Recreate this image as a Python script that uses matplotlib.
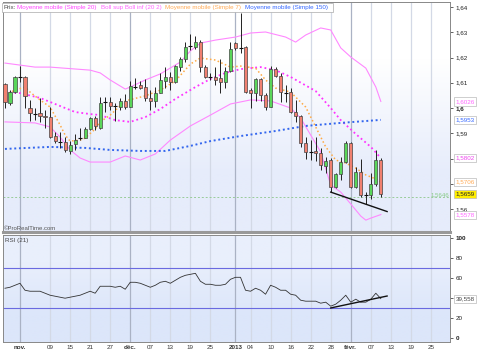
import numpy as np
import pandas as pd
import matplotlib
matplotlib.use('Agg')
import matplotlib.pyplot as plt
from matplotlib.patches import Rectangle
from matplotlib.transforms import blended_transform_factory

plt.rcParams['font.family'] = ['Liberation Sans', 'DejaVu Sans']

# trading days (forex, weekdays) from 29 Oct 2012
dates = pd.bdate_range('2012-10-29', '2013-03-01')

# daily candles, 29 Oct 2012 -> 11 Feb 2013
opens = [1.6095, 1.6020, 1.6063, 1.6123, 1.6121, 1.6000, 1.5980, 1.5980, 1.5968, 1.5964,
         1.5889, 1.5869, 1.5865, 1.5830, 1.5857, 1.5879, 1.5881, 1.5917, 1.5960, 1.5921,
         1.6020, 1.6024, 1.6008, 1.6004, 1.6028, 1.6004, 1.6087, 1.6091, 1.6083, 1.6040,
         1.6028, 1.6060, 1.6107, 1.6123, 1.6103, 1.6162, 1.6194, 1.6242, 1.6242, 1.6261,
         1.6162, 1.6123, 1.6123, 1.6119, 1.6103, 1.6146, 1.6257, 1.6238, 1.6242, 1.6071,
         1.6060, 1.6115, 1.6052, 1.6004, 1.6154, 1.6127, 1.6063, 1.6063, 1.5984, 1.5968,
         1.5861, 1.5826, 1.5830, 1.5822, 1.5770, 1.5794, 1.5687, 1.5739, 1.5786, 1.5861,
         1.5687, 1.5747, 1.5656, 1.5656, 1.5699, 1.5794]
highs = [1.6099, 1.6071, 1.6127, 1.6166, 1.6127, 1.6032, 1.6000, 1.6040, 1.5992, 1.6004,
         1.5905, 1.5905, 1.5885, 1.5869, 1.5897, 1.5921, 1.5925, 1.5964, 1.5968, 1.6044,
         1.6044, 1.6044, 1.6020, 1.6040, 1.6056, 1.6107, 1.6119, 1.6107, 1.6115, 1.6071,
         1.6083, 1.6138, 1.6162, 1.6142, 1.6170, 1.6202, 1.6261, 1.6293, 1.6285, 1.6269,
         1.6170, 1.6138, 1.6162, 1.6194, 1.6162, 1.6261, 1.6261, 1.6376, 1.6246, 1.6079,
         1.6119, 1.6119, 1.6060, 1.6166, 1.6162, 1.6138, 1.6091, 1.6079, 1.6032, 1.5972,
         1.5885, 1.5873, 1.5885, 1.5842, 1.5806, 1.5802, 1.5743, 1.5806, 1.5869, 1.5865,
         1.5766, 1.5798, 1.5667, 1.5743, 1.5834, 1.5802]
lows = [1.6000, 1.6012, 1.6060, 1.6103, 1.6000, 1.5948, 1.5952, 1.5945, 1.5921, 1.5881,
        1.5861, 1.5842, 1.5826, 1.5818, 1.5834, 1.5873, 1.5881, 1.5913, 1.5913, 1.5917,
        1.5984, 1.5992, 1.5948, 1.5992, 1.5996, 1.6004, 1.6075, 1.6075, 1.6028, 1.5992,
        1.6004, 1.6060, 1.6079, 1.6071, 1.6099, 1.6146, 1.6182, 1.6230, 1.6234, 1.6142,
        1.6119, 1.6111, 1.6091, 1.6060, 1.6079, 1.6142, 1.6230, 1.6218, 1.6060, 1.6000,
        1.6028, 1.6028, 1.5992, 1.6004, 1.6123, 1.6024, 1.6024, 1.5980, 1.5945, 1.5846,
        1.5798, 1.5794, 1.5790, 1.5754, 1.5743, 1.5667, 1.5683, 1.5715, 1.5782, 1.5683,
        1.5683, 1.5648, 1.5620, 1.5640, 1.5691, 1.5648]
closes = [1.6024, 1.6063, 1.6123, 1.6121, 1.6048, 1.5980, 1.5978, 1.5968, 1.5964, 1.5885,
          1.5869, 1.5867, 1.5834, 1.5853, 1.5873, 1.5881, 1.5917, 1.5960, 1.5929, 1.6020,
          1.6022, 1.6008, 1.6006, 1.6028, 1.6004, 1.6087, 1.6085, 1.6079, 1.6040, 1.6028,
          1.6060, 1.6111, 1.6123, 1.6103, 1.6166, 1.6194, 1.6242, 1.6244, 1.6261, 1.6162,
          1.6123, 1.6121, 1.6111, 1.6103, 1.6146, 1.6234, 1.6238, 1.6236, 1.6063, 1.6060,
          1.6115, 1.6052, 1.6004, 1.6154, 1.6127, 1.6063, 1.6061, 1.5984, 1.5968, 1.5861,
          1.5826, 1.5824, 1.5822, 1.5774, 1.5790, 1.5687, 1.5739, 1.5786, 1.5861, 1.5687,
          1.5747, 1.5656, 1.5654, 1.5699, 1.5794, 1.5659]

# indicator lines (day position, value)
boll_up_x = [0, 6, 9, 17, 19, 21, 24, 25, 28, 31, 35, 37, 39, 42, 46, 49, 52, 56, 58, 60, 63, 65, 67, 69, 72, 74, 75]
boll_up = [1.6178, 1.6162, 1.6162, 1.6150, 1.6139, 1.6111, 1.6075, 1.6083, 1.6111, 1.6135,
           1.6182, 1.6226, 1.6257, 1.6269, 1.6281, 1.6297, 1.6301, 1.6281, 1.6261, 1.6289,
           1.6317, 1.6309, 1.6238, 1.6202, 1.6158, 1.6083, 1.6026]
boll_dn_x = [0, 6, 9, 11, 13, 15, 17, 21, 24, 27, 30, 33, 37, 41, 45, 49, 53, 57, 59, 61, 63, 65, 67, 69, 71, 72, 73, 75]
boll_dn = [1.5945, 1.5941, 1.5925, 1.5885, 1.5834, 1.5802, 1.5786, 1.5786, 1.5810, 1.5794,
           1.5818, 1.5873, 1.5929, 1.5972, 1.6016, 1.6032, 1.6028, 1.6000, 1.5960, 1.5893,
           1.5826, 1.5695, 1.5667, 1.5620, 1.5572, 1.5556, 1.5564, 1.5578]
sma20_x = [0, 3, 7, 10, 14, 17, 19, 22, 25, 28, 31, 34, 38, 41, 44, 47, 51, 54, 57, 62, 65, 67, 70, 73, 75]
sma20 = [1.6063, 1.6059, 1.6040, 1.6016, 1.5984, 1.5976, 1.5972, 1.5952, 1.5945, 1.5964,
         1.5996, 1.6036, 1.6083, 1.6115, 1.6139, 1.6154, 1.6162, 1.6150, 1.6123, 1.6067,
         1.6000, 1.5952, 1.5897, 1.5846, 1.5802]
sma7_x = [0, 2, 4, 5, 7, 9, 11, 12, 13, 15, 16, 18, 19, 21, 24, 28, 31, 34, 37, 39, 42, 45,
          47, 50, 52, 54, 57, 60, 62, 64, 66, 68, 70, 72, 74, 75]
sma7 = [1.6052, 1.6071, 1.6083, 1.6063, 1.6032, 1.6004, 1.5933, 1.5893, 1.5869, 1.5873,
        1.5881, 1.5917, 1.5945, 1.5972, 1.6028, 1.6048, 1.6071, 1.6107, 1.6174, 1.6198,
        1.6190, 1.6162, 1.6166, 1.6158, 1.6111, 1.6079, 1.6063, 1.6004, 1.5925, 1.5846,
        1.5794, 1.5782, 1.5762, 1.5735, 1.5719, 1.5706]
sma150_x = [0, 9, 16, 21, 27, 32, 37, 41, 47, 54, 60, 67, 75]
sma150 = [1.5838, 1.5846, 1.5842, 1.5834, 1.5830, 1.5830, 1.5850, 1.5869, 1.5889, 1.5909,
          1.5929, 1.5941, 1.5953]

rsi = [50, 51, 53, 55, 48, 47, 47, 47, 45, 43, 42, 41, 40, 41, 42, 43, 45, 47, 45, 52,
       52, 52, 51, 52, 49, 56, 56, 55, 53, 51, 53, 56, 57, 55, 58, 61, 63, 64, 65, 57,
       54, 54, 53, 53, 54, 59, 61, 61, 48, 47, 50, 48, 44, 53, 51, 48, 48, 44, 43, 38,
       37, 37, 37, 35, 36, 32, 34, 38, 43, 36, 39, 36, 36, 39, 45, 39.558]

# trend lines drawn by hand on the chart
trend_x = [65, 76.25]
trend_price = [1.5667, 1.5590]
trend_rsi = [30.2, 42.2]
support = 1.5646

tick_dates = ['2012-11-01', '2012-11-09', '2012-11-15', '2012-11-21', '2012-11-27', '2012-12-03',
              '2012-12-07', '2012-12-13', '2012-12-19', '2012-12-25', '2013-01-01', '2013-01-04',
              '2013-01-10', '2013-01-16', '2013-01-22', '2013-01-28', '2013-02-01', '2013-02-07',
              '2013-02-13', '2013-02-19', '2013-02-25']
tick_labels = ['nov.', '09', '15', '21', '27', 'déc.', '07', '13', '19', '25', '2013', '04',
               '10', '16', '22', '28', 'févr.', '07', '13', '19', '25']
month_labels = ['nov.', 'déc.', '2013', 'févr.']

price_ticks = [1.56, 1.57, 1.58, 1.59, 1.60, 1.61, 1.62, 1.63, 1.64]
price_tick_labels = ['1,56', '', '', '1,59', '1,6', '1,61', '1,62', '1,63', '1,64']
rsi_ticks = [0, 20, 40, 60, 80, 100]
rsi_tick_labels = ['0', '20', '', '60', '80', '100']

last_labels = [(1.6026, '1,6026', '#ff66ff', 'white'),
               (1.5953, '1,5953', '#3366ff', 'white'),
               (1.5802, '1,5802', '#ee44ee', 'white'),
               (1.5706, '1,5706', '#ffaa55', 'white'),
               (1.5659, '1,5659', '#222222', '#ffee00'),
               (1.5578, '1,5578', '#ff66ff', 'white')]

W, H = 481, 363
fig = plt.figure(figsize=(W / 100, H / 100), dpi=100)
ax = fig.add_axes([3 / W, 1 - 232 / H, 447 / W, 230 / H])
ax2 = fig.add_axes([3 / W, 1 - 342 / H, 447 / W, 107 / H])

tick_pos = dates.get_indexer(pd.to_datetime(tick_dates))
x = np.arange(len(opens))
o = np.array(opens); c = np.array(closes); h = np.array(highs); l = np.array(lows)

for a, top, bot in [(ax, '#ffffff', '#e6ecfb'), (ax2, '#e9effc', '#dce6fa')]:
    grad = np.array([[matplotlib.colors.to_rgb(top)], [matplotlib.colors.to_rgb(bot)]])
    a.imshow(grad, extent=[0, 1, 0, 1], transform=a.transAxes, aspect='auto',
             interpolation='bilinear', zorder=0)
    for p, lab in zip(tick_pos, tick_labels):
        col = '#aab2c4' if lab in month_labels else '#d3d9e6'
        a.axvline(p, color=col, lw=0.9, zorder=1)
    a.set_xlim(-0.39, 88.8)

# price panel
ax.plot(boll_up_x, boll_up, color='#ff88ff', lw=0.8, zorder=2)
ax.plot(boll_dn_x, boll_dn, color='#ff88ff', lw=0.8, zorder=2)
ax.plot(sma20_x, sma20, color='#ff33ff', lw=1.3, ls=(0, (1, 1.6)), zorder=2)
ax.plot(sma7_x, sma7, color='#ffaa44', lw=1.1, ls=(0, (1, 1.6)), zorder=2)
ax.plot(sma150_x, sma150, color='#3366ee', lw=1.4, ls=(0, (1, 1.4)), zorder=2)

ax.vlines(x, l, h, color='#222222', lw=0.7, zorder=3)
doji = np.abs(c - o) < 0.00035
body = ~doji
cols = np.where(c >= o, '#5ad65a', '#f08070')
ax.bar(x[body], np.abs(c - o)[body], bottom=np.minimum(o, c)[body], width=0.62,
       color=cols[body], edgecolor='#444444', linewidth=0.5, zorder=4)
ax.hlines(c[doji], x[doji] - 0.4, x[doji] + 0.4, color='#111111', lw=0.8, zorder=4)

ax.axhline(support, color='#99cc99', lw=0.7, ls=(0, (2, 2)), zorder=2)
ax.text(88.6, support + 0.0002, '1,5646', color='#88cc88', fontsize=4.4,
        ha='right', va='bottom', zorder=5)
ax.plot(trend_x, trend_price, color='#111111', lw=1.0, zorder=5)

ax.set_ylim(1.5509, 1.64198)
ax.yaxis.tick_right()
ax.set_yticks(price_ticks)
ax.set_yticklabels(price_tick_labels)
ax.set_xticks([])
ax.tick_params(axis='y', direction='out', length=2.5, width=0.5, pad=1.5,
               labelsize=4.5, colors='#222222')
for t in ax.get_yticklabels():
    if t.get_text() == '1,6':
        t.set_fontweight('bold')

tr = blended_transform_factory(ax.transAxes, ax.transData)
for val, txt, col, bg in last_labels:
    ax.text(1.012, val, txt, transform=tr, color=col, fontsize=4.5, va='center', ha='left',
            zorder=6, clip_on=False,
            bbox=dict(boxstyle='square,pad=0.25', fc=bg, ec='#bbbbbb', lw=0.5))

ax.text(0.003, 0.006, '©ProRealTime.com', transform=ax.transAxes, fontsize=4.3,
        color='#555555', va='bottom', ha='left', zorder=6)

for s in ['left', 'right', 'top']:
    ax.spines[s].set_color('#888888')
    ax.spines[s].set_linewidth(0.7)
ax.spines['bottom'].set_color('#999999')
ax.spines['bottom'].set_linewidth(2.2)

# RSI panel
ax2.axhline(70, color='#6a6ae0', lw=0.8, zorder=2)
ax2.axhline(30, color='#6a6ae0', lw=0.8, zorder=2)
ax2.plot(x, rsi, color='#333333', lw=0.6, zorder=3)
ax2.plot(trend_x, trend_rsi, color='#111111', lw=1.0, zorder=4)
ax2.set_ylim(-4, 103.5)
ax2.yaxis.tick_right()
ax2.set_yticks(rsi_ticks)
ax2.set_yticklabels(rsi_tick_labels)
ax2.tick_params(axis='y', direction='out', length=2.5, width=0.5, pad=1.5,
                labelsize=4.5, colors='#222222')
for t in ax2.get_yticklabels():
    if t.get_text() in ('0', '100'):
        t.set_fontweight('bold')
ax2.set_xticks(tick_pos)
ax2.set_xticklabels(tick_labels)
ax2.tick_params(axis='x', length=0, pad=2.5, labelsize=4.5, colors='#333333')
for t in ax2.get_xticklabels():
    if t.get_text() in month_labels:
        t.set_fontweight('bold')
tr2 = blended_transform_factory(ax2.transAxes, ax2.transData)
ax2.text(1.012, rsi[-1], '39,558', transform=tr2, color='#444444', fontsize=4.5,
         va='center', ha='left', zorder=6, clip_on=False,
         bbox=dict(boxstyle='square,pad=0.25', fc='white', ec='#bbbbbb', lw=0.5))
ax2.text(0.004, 0.975, 'RSI (21)', transform=ax2.transAxes, fontsize=4.5,
         color='#444444', va='top', ha='left', zorder=6)
for s in ['left', 'right', 'top', 'bottom']:
    ax2.spines[s].set_color('#888888')
    ax2.spines[s].set_linewidth(0.7)

# legend strip at the top
fig.add_artist(Rectangle((2 / W, 1 - 12 / H), 331 / W, 9 / H, transform=fig.transFigure,
                         fc='white', ec='#aaaaaa', lw=0.5, zorder=10))
legend_items = [(4, 'Prix:', '#444444'),
                (17, 'Moyenne mobile (Simple 20)', '#ff44ff'),
                (101, 'Boll sup Boll inf (20 2)', '#ff66ff'),
                (165, 'Moyenne mobile (Simple 7)', '#ffaa55'),
                (245, 'Moyenne mobile (Simple 150)', '#3366ff')]
for px, txt, col in legend_items:
    fig.text(px / W, 1 - 7.5 / H, txt, color=col, fontsize=4.5, va='center', ha='left',
             zorder=11)

fig.savefig('out.png', dpi=100)
